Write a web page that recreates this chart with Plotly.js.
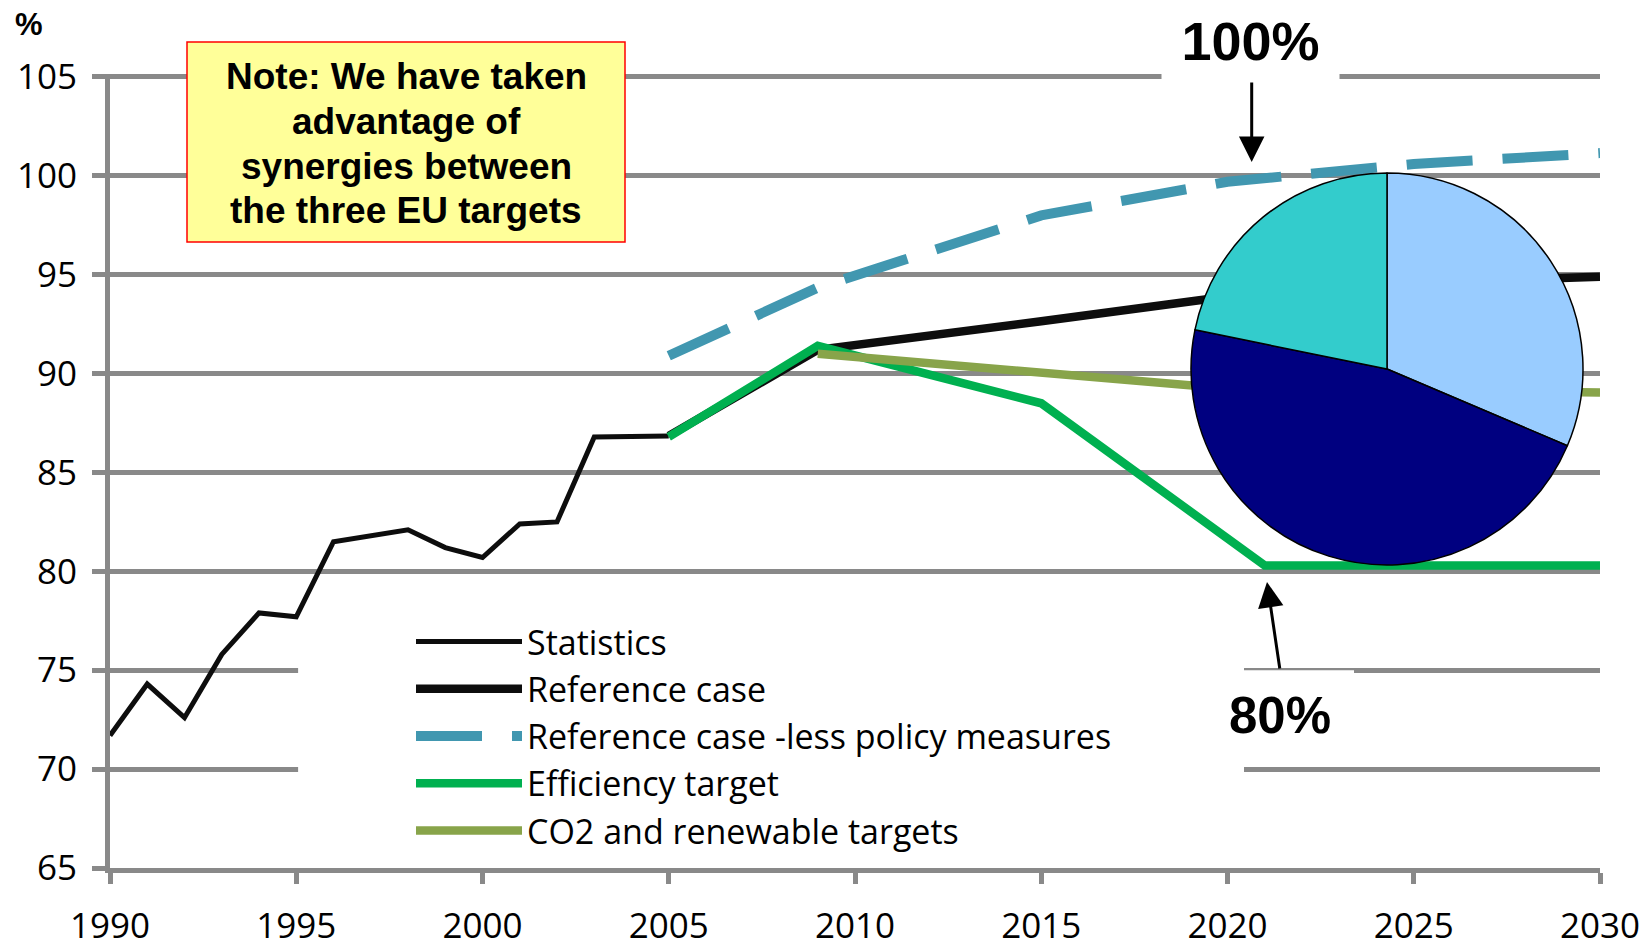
<!DOCTYPE html>
<html>
<head>
<meta charset="utf-8">
<script src="https://cdn.plot.ly/plotly-3.0.1.min.js"></script>
<style>
  html, body { margin: 0; padding: 0; background: #ffffff; }
  #chart { width: 1648px; height: 950px; }
</style>
</head>
<body>
<div id="chart"></div>
<script>
// ---- data ----
const statYears = [1990, 1991, 1992, 1993, 1994, 1995, 1996, 1997, 1998, 1999, 2000, 2001, 2002, 2003, 2004, 2005];
const statValues = [71.7, 74.3, 72.6, 75.8, 77.9, 77.7, 81.5, 81.8, 82.1, 81.2, 80.7, 82.4, 82.5, 86.8, 86.85, 86.85];

const refYears = [2005, 2009, 2015, 2020, 2025, 2030];
const refValues = [86.85, 91.2, 92.65, 93.9, 94.6, 94.9];

const lessYears = [2005, 2009, 2015, 2020, 2025, 2030];
const lessValues = [90.9, 94.35, 98.0, 99.7, 100.6, 101.15];

const effYears = [2005, 2009, 2015, 2021, 2030];
const effValues = [86.8, 91.4, 88.5, 80.3, 80.3];

const co2Years = [2009, 2015, 2020, 2030];
const co2Values = [91.0, 90.05, 89.25, 89.05];

const seriesNames = ["Statistics", "Reference case", "Reference case -less policy measures", "Efficiency target", "CO2 and renewable targets"];

const pieLabels = ["Part A", "Part B", "Part C"];
const pieValues = [31.4, 46.8, 21.8];

const yTicks = [65, 70, 75, 80, 85, 90, 95, 100, 105];
const xTicks = [1990, 1995, 2000, 2005, 2010, 2015, 2020, 2025, 2030];

const noteLines = ["Note: We have taken", "advantage of", "synergies between", "the three EU targets"];

// ---- layout helpers (page pixels -> paper fractions) ----
const L = 110, R = 48, T = 74, B = 82, W = 1648, H = 950;
const PW = W - L - R, PH = H - T - B;
const px = x => (x - L) / PW;
const py = y => (H - B - y) / PH;
const pxYear = x => 1990 + (x - L) / (PW / 40);

const GRID = '#898989';
const FONT = '"Open Sans", Lato, sans-serif';
const tickFont = { family: FONT, size: 35, color: '#000000' };
const boldFont = (s) => ({ family: '"Liberation Sans", Arial, sans-serif', size: s, color: '#000000', weight: 'bold' });

const traces = [
  { x: statYears, y: statValues, name: seriesNames[0], type: 'scatter', mode: 'lines',
    line: { color: '#0d0d0d', width: 5 } },
  { x: refYears, y: refValues, name: seriesNames[1], type: 'scatter', mode: 'lines',
    line: { color: '#0d0d0d', width: 8.5 } },
  { x: lessYears, y: lessValues, name: seriesNames[2], type: 'scatter', mode: 'lines',
    line: { color: '#4197b0', width: 10, dash: '66px,30px' } },
  { x: effYears, y: effValues, name: seriesNames[3], type: 'scatter', mode: 'lines',
    line: { color: '#00b050', width: 8.5 } },
  { x: co2Years, y: co2Values, name: seriesNames[4], type: 'scatter', mode: 'lines',
    line: { color: '#88a44a', width: 8.5 } },
  { type: 'pie', labels: pieLabels, values: pieValues, sort: false, direction: 'clockwise', rotation: 0,
    textinfo: 'none', showlegend: false, hoverinfo: 'label+percent',
    marker: { colors: ['#99ccff', '#000080', '#33cccc'], line: { color: '#000000', width: 1.5 } },
    domain: { x: [px(1191), px(1583)], y: [py(565), py(173)] } }
];

const noteAnnotations = noteLines.map((t, i) => ({
  xref: 'paper', yref: 'paper', x: px(406), y: py(76.5 + i * 44.8), text: t, showarrow: false,
  font: boldFont(37), xanchor: 'center', yanchor: 'middle'
}));

const layout = {
  width: W, height: H,
  margin: { l: L, r: R, t: T, b: B, pad: 0 },
  paper_bgcolor: '#ffffff', plot_bgcolor: '#ffffff',
  showlegend: true,
  xaxis: {
    range: [1990, 2030], tickvals: xTicks, ticktext: xTicks.map(String),
    showgrid: false, zeroline: false,
    showline: true, linecolor: GRID, linewidth: 5,
    ticks: 'outside', ticklen: 11, tickwidth: 5, tickcolor: GRID,
    tickfont: tickFont, ticklabelstandoff: 12
  },
  yaxis: {
    range: [65, 105.15], tickvals: yTicks, ticktext: yTicks.map(String),
    showgrid: true, gridcolor: GRID, gridwidth: 5, zeroline: false,
    showline: true, linecolor: GRID, linewidth: 5,
    ticks: 'outside', ticklen: 13, tickwidth: 5, tickcolor: GRID,
    tickfont: tickFont, ticklabelstandoff: 8
  },
  legend: {
    x: px(411), y: py(613), xanchor: 'left', yanchor: 'top',
    bgcolor: 'rgba(0,0,0,0)', borderwidth: 0,
    font: { family: FONT, size: 34, color: '#000000' },
    itemwidth: 106, tracegroupgap: 0, traceorder: 'normal'
  },
  shapes: [
    // gaps in gridlines behind the legend area
    { type: 'rect', layer: 'between', xref: 'x', yref: 'y', x0: 1995.05, x1: pxYear(1244), y0: 67, y1: 77,
      fillcolor: '#ffffff', line: { width: 0 } },
    { type: 'rect', layer: 'between', xref: 'x', yref: 'y', x0: 2020, x1: pxYear(1354), y0: 74.86, y1: 75.0,
      fillcolor: '#ffffff', line: { width: 0 } },
    // note box
    { type: 'rect', layer: 'above', xref: 'paper', yref: 'paper', x0: px(187), x1: px(625), y0: py(242), y1: py(42),
      fillcolor: '#ffff99', line: { color: '#ff0000', width: 1.5 } }
  ],
  annotations: [
    { xref: 'paper', yref: 'paper', x: px(29), y: py(25), text: '%', showarrow: false,
      font: boldFont(31), xanchor: 'center', yanchor: 'middle' },
    ...noteAnnotations,
    { xref: 'paper', yref: 'paper', x: px(1250.5), y: py(41), text: '100%', showarrow: false,
      font: boldFont(54), xanchor: 'center', yanchor: 'middle',
      bgcolor: '#ffffff', borderpad: 0, width: 177, height: 76 },
    { xref: 'paper', yref: 'paper', x: px(1251.7), y: py(162), text: '', showarrow: true,
      ax: 0, ay: -81, arrowhead: 2, arrowsize: 1.7, arrowwidth: 3, arrowcolor: '#000000', standoff: 0 },
    { xref: 'paper', yref: 'paper', x: px(1280), y: py(715), text: '80%', showarrow: false,
      font: boldFont(51), xanchor: 'center', yanchor: 'middle' },
    { xref: 'paper', yref: 'paper', x: px(1267), y: py(582), text: '', showarrow: true,
      ax: 13, ay: 88, arrowhead: 2, arrowsize: 1.7, arrowwidth: 3, arrowcolor: '#000000', standoff: 0 }
  ]
};

Plotly.newPlot('chart', traces, layout, { staticPlot: true, displayModeBar: false });
</script>
</body>
</html>
